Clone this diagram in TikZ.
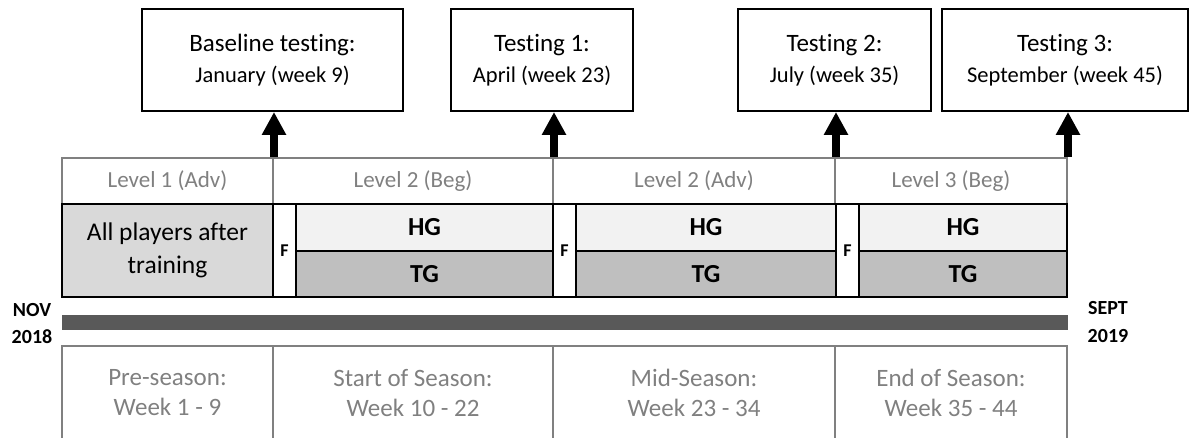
\documentclass[tikz,border=0pt]{standalone}
\usepackage{fontspec}
\setmainfont{Carlito}[Ligatures={NoCommon}]
\usetikzlibrary{arrows.meta}
\definecolor{apfill}{HTML}{D9D9D9}
\definecolor{hgfill}{HTML}{F2F2F2}
\definecolor{tgfill}{HTML}{BFBFBF}
\definecolor{barcol}{HTML}{595959}
\definecolor{greyline}{HTML}{808080}
\definecolor{greytext}{HTML}{808080}
\begin{document}
\begin{tikzpicture}[x=1pt,y=-1pt,
  testbox/.style={draw=black, line width=2pt, inner sep=0pt, align=center, minimum height=102pt,
    font=\fontsize{25}{31}\selectfont},
  levelbox/.style={draw=greyline, line width=2pt, inner sep=0pt, minimum height=46pt,
    text=greytext, font=\fontsize{23}{27}\selectfont},
  blkbox/.style={draw=black, line width=2.3pt, inner sep=0pt, align=center},
  fbox/.style={blkbox, fill=white, minimum width=23pt, minimum height=93pt, font=\bfseries\fontsize{18}{21}\selectfont},
  hgbox/.style={blkbox, fill=hgfill, minimum height=47pt, font=\bfseries\fontsize{26}{30}\selectfont},
  tgbox/.style={blkbox, fill=tgfill, minimum height=46pt, font=\bfseries\fontsize{26}{30}\selectfont},
  seasonbox/.style={draw=greyline, line width=2pt, inner sep=0pt, align=center, minimum height=94pt,
    text=greytext, font=\fontsize{25}{30}\selectfont},
  datelbl/.style={inner sep=0pt, font=\bfseries\fontsize{20}{24}\selectfont},
  testarrow/.style={line width=8pt, -{Triangle[width=23pt,length=23pt]}}
]
\useasboundingbox (0,0) rectangle (1190,438);
\clip (0,0) rectangle (1190,438);

% testing boxes
\node[testbox, minimum width=261pt] (b0) at (272.5,60) {Baseline testing:\\{\fontsize{22.5}{31}\selectfont January (week 9)}};
\node[testbox, minimum width=182pt] (b1) at (542,60) {Testing 1:\\{\fontsize{22.5}{31}\selectfont April (week 23)}};
\node[testbox, minimum width=193pt] (b2) at (834.5,60) {Testing 2:\\{\fontsize{22.5}{31}\selectfont July (week 35)}};
\node[testbox, minimum width=246pt] (b3) at (1065,60) {Testing 3:\\{\fontsize{22.5}{31}\selectfont September (week 45)}};

% level row
\node[levelbox, minimum width=211pt] (lv1) at (167.5,181) {Level 1 (Adv)};
\node[levelbox, minimum width=280pt] (lv2) at (413,181) {Level 2 (Beg)};
\node[levelbox, minimum width=282pt] (lv3) at (694,181) {Level 2 (Adv)};
\node[levelbox, minimum width=232pt] (lv4) at (951,181) {Level 3 (Beg)};

% arrows
\draw[testarrow] (lv1.north east) -- (lv1.north east |- b0.south);
\draw[testarrow] (lv2.north east) -- (lv2.north east |- b1.south);
\draw[testarrow] (lv3.north east) -- (lv3.north east |- b2.south);
\draw[testarrow] (lv4.north east) -- (lv4.north east |- b3.south);

% group row
\node[blkbox, fill=apfill, minimum width=211pt, minimum height=93pt, font=\fontsize{25.5}{33}\selectfont] (ap) at (167.5,250.5) {All players after\\training};
\node[fbox] (f1) at (284.5,250.5) {F};
\node[hgbox, minimum width=257pt] (hg1) at (424.5,227.5) {HG};
\node[tgbox, minimum width=257pt] (tg1) at (424.5,274) {TG};
\node[fbox] (f2) at (564.5,250.5) {F};
\node[hgbox, minimum width=260pt] (hg2) at (706,227.5) {HG};
\node[tgbox, minimum width=260pt] (tg2) at (706,274) {TG};
\node[fbox] (f3) at (847.5,250.5) {F};
\node[hgbox, minimum width=208pt] (hg3) at (963,227.5) {HG};
\node[tgbox, minimum width=208pt] (tg3) at (963,274) {TG};

% timeline bar
\node[fill=barcol, inner sep=0pt, minimum width=1006pt, minimum height=15pt] (bar) at (565,322.5) {};
\node[datelbl] (nov) at (32,310) {NOV};
\node[datelbl] (y18) at (32,337) {2018};
\node[datelbl] (sept) at (1108,308) {SEPT};
\node[datelbl] (y19) at (1108,336) {2019};

% seasons
\node[seasonbox, minimum width=211pt] (s1) at (167.5,393) {Pre-season:\\Week 1 - 9};
\node[seasonbox, minimum width=280pt] (s2) at (413,393) {Start of Season:\\Week 10 - 22};
\node[seasonbox, minimum width=282pt] (s3) at (694,393) {Mid-Season:\\Week 23 - 34};
\node[seasonbox, minimum width=232pt] (s4) at (951,393) {End of Season:\\Week 35 - 44};
\end{tikzpicture}
\end{document}
